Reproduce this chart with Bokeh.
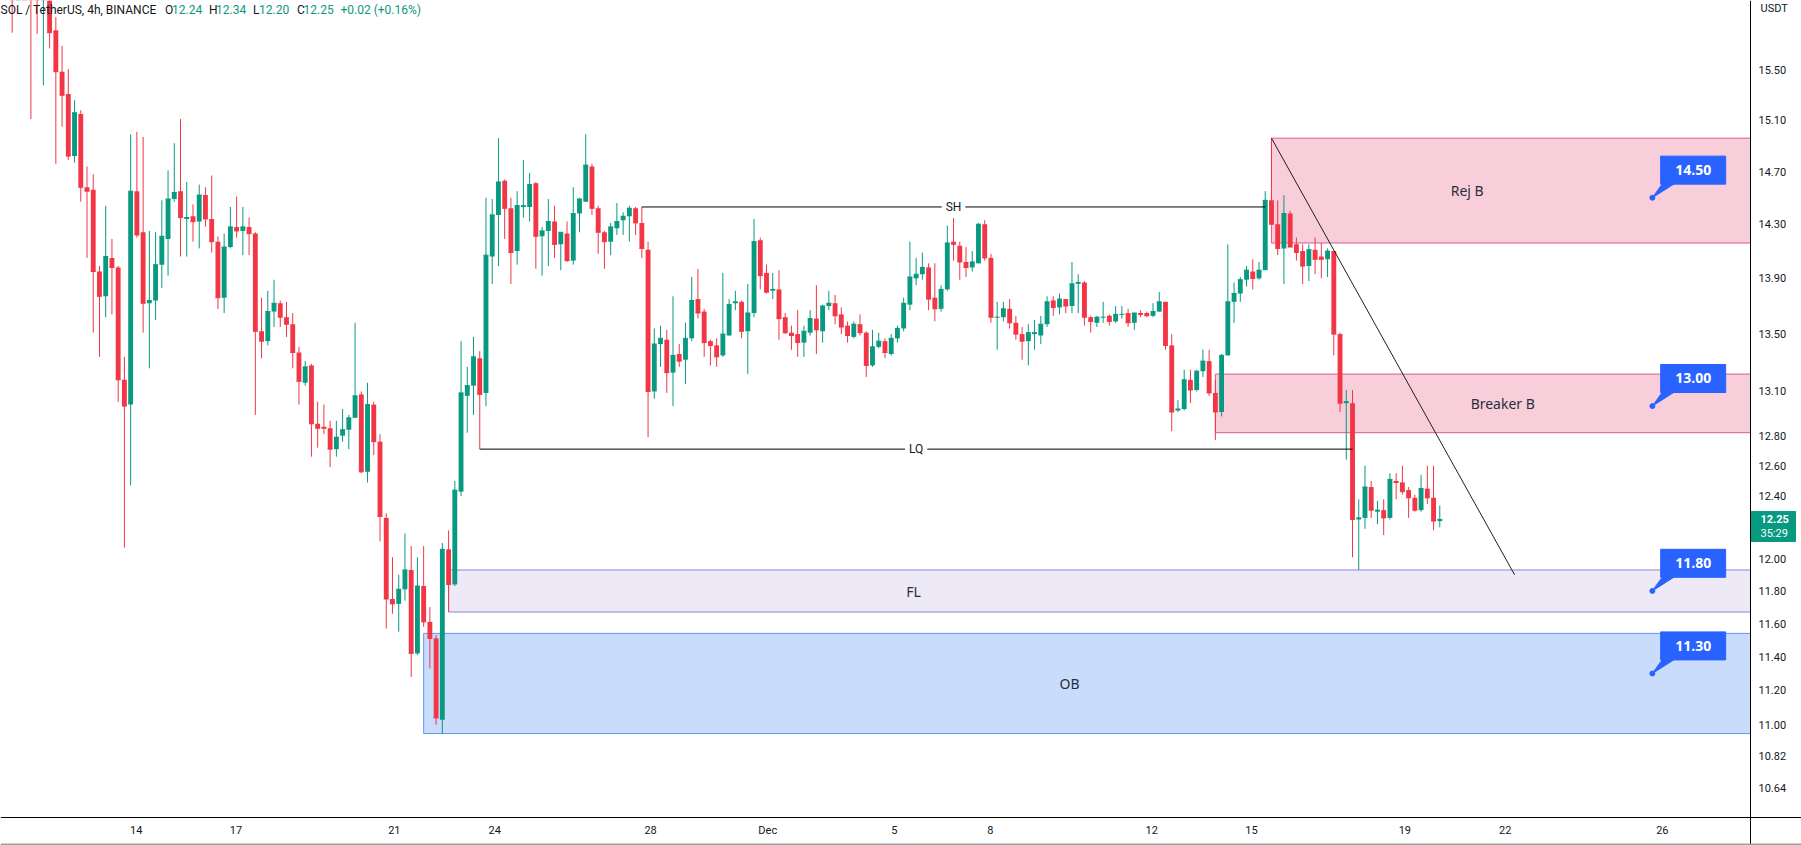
import numpy as np
from bokeh.plotting import figure
from bokeh.models import Range1d, FixedTicker, PrintfTickFormatter, Label, ColumnDataSource, Span
from bokeh.embed import file_html
from bokeh.resources import INLINE

# ---------------- data ----------------
symbol_text = "SOL / TetherUS, 4h, BINANCE"

opens = [
    16.45, 16.22, 16.40, 16.25, 16.20, 16.10, 16.35, 15.83, 15.49, 15.31,
    14.82, 15.15, 14.58, 14.56, 13.95, 13.77, 14.05, 13.98, 13.18, 13.01,
    14.55, 14.24, 13.72, 13.74, 14.00, 14.19, 14.49, 14.55, 14.34, 14.36,
    14.32, 14.52, 14.34, 14.17, 13.76, 14.13, 14.28, 14.25, 14.28, 14.23,
    13.52, 13.45, 13.66, 13.72, 13.62, 13.57, 13.37, 13.16, 13.28, 12.88,
    12.86, 12.85, 12.71, 12.80, 12.84, 12.92, 13.08, 12.56, 13.01, 12.76,
    12.26, 11.75, 11.72, 11.81, 11.93, 11.42, 11.83, 11.61, 11.51, 11.03,
    12.06, 11.84, 12.43, 13.07, 13.14, 13.33, 13.09, 14.06, 14.37, 14.63,
    14.42, 14.10, 14.43, 14.43, 14.61, 14.21, 14.25, 14.32, 14.15, 14.23,
    14.03, 14.38, 14.47, 14.74, 14.42, 14.24, 14.17, 14.27, 14.33, 14.36,
    14.42, 14.31, 14.11, 13.10, 13.43, 13.46, 13.23, 13.36, 13.32, 13.47,
    13.75, 13.66, 13.45, 13.42, 13.35, 13.49, 13.72, 13.73, 13.52, 13.65,
    14.18, 13.94, 13.81, 13.82, 13.62, 13.51, 13.50, 13.44, 13.51, 13.61,
    13.52, 13.70, 13.72, 13.64, 13.56, 13.48, 13.57, 13.51, 13.28, 13.41,
    13.45, 13.36, 13.47, 13.54, 13.71, 13.90, 13.93, 13.98, 13.76, 13.68,
    13.82, 14.17, 14.14, 14.02, 13.98, 14.01, 14.30, 14.05, 13.62, 13.62,
    13.68, 13.58, 13.50, 13.45, 13.50, 13.49, 13.57, 13.74, 13.69, 13.75,
    13.70, 13.86, 13.87, 13.62, 13.58, 13.62, 13.63, 13.59, 13.64, 13.65,
    13.58, 13.65, 13.65, 13.63, 13.66, 13.73, 13.42, 12.97, 12.98, 13.18,
    13.11, 13.24, 13.31, 13.09, 12.96, 13.35, 13.73, 13.79, 13.89, 13.95,
    13.90, 13.96, 14.48, 14.30, 14.12, 14.38, 14.15, 14.10, 13.99, 14.11,
    14.06, 14.04, 14.10, 13.50, 13.02, 13.02, 12.25, 12.26, 12.46, 12.30,
    12.31, 12.26, 12.50, 12.49, 12.44, 12.39, 12.31, 12.45, 12.39, 12.24,
]
highs = [
    16.60, 16.48, 16.55, 16.40, 16.30, 16.45, 16.40, 15.94, 15.70, 15.51,
    15.26, 15.18, 14.74, 14.68, 13.99, 14.44, 14.19, 13.99, 13.34, 14.99,
    15.01, 14.97, 14.25, 14.24, 14.48, 14.71, 14.92, 15.11, 14.62, 14.45,
    14.60, 14.58, 14.67, 14.21, 14.23, 14.43, 14.51, 14.43, 14.35, 14.24,
    13.76, 13.81, 13.89, 13.74, 13.73, 13.65, 13.41, 13.31, 13.29, 13.03,
    13.01, 12.90, 12.90, 12.98, 12.94, 13.58, 13.10, 13.16, 13.03, 12.81,
    12.29, 12.01, 11.90, 12.16, 12.08, 12.01, 12.08, 11.70, 11.53, 12.10,
    12.18, 12.50, 13.45, 13.27, 13.48, 13.38, 14.50, 14.49, 14.96, 14.64,
    14.50, 14.55, 14.79, 14.69, 14.62, 14.28, 14.49, 14.44, 14.24, 14.32,
    14.58, 14.50, 14.99, 14.76, 14.44, 14.25, 14.31, 14.46, 14.39, 14.44,
    14.43, 14.43, 14.17, 13.54, 13.56, 13.53, 13.77, 13.43, 13.58, 13.91,
    13.97, 13.68, 13.46, 13.47, 13.94, 13.75, 13.81, 13.74, 13.86, 14.34,
    14.20, 14.00, 13.94, 13.96, 13.65, 13.56, 13.67, 13.56, 13.67, 13.85,
    13.71, 13.81, 13.78, 13.69, 13.59, 13.59, 13.64, 13.52, 13.53, 13.51,
    13.47, 13.50, 13.56, 13.76, 14.17, 14.05, 14.09, 14.01, 14.01, 13.85,
    14.29, 14.38, 14.17, 14.13, 14.10, 14.31, 14.33, 14.08, 13.73, 13.73,
    13.75, 13.63, 13.55, 13.57, 13.60, 13.63, 13.77, 13.77, 13.79, 13.75,
    14.02, 13.93, 13.88, 13.63, 13.63, 13.73, 13.64, 13.70, 13.70, 13.68,
    13.65, 13.67, 13.66, 13.72, 13.80, 13.73, 13.50, 13.04, 13.25, 13.25,
    13.25, 13.39, 13.39, 13.18, 13.36, 14.15, 13.87, 13.91, 13.99, 14.04,
    14.02, 14.55, 14.96, 14.48, 14.52, 14.40, 14.20, 14.15, 14.15, 14.20,
    14.16, 14.12, 14.10, 13.51, 13.11, 13.11, 12.38, 12.60, 12.50, 12.37,
    12.38, 12.55, 12.55, 12.60, 12.46, 12.41, 12.54, 12.60, 12.60, 12.34,
]
lows = [
    15.81, 16.12, 16.15, 15.11, 15.80, 15.38, 15.68, 14.76, 15.05, 14.79,
    14.77, 14.47, 14.05, 13.51, 13.34, 13.62, 13.64, 13.03, 12.07, 12.47,
    14.20, 13.51, 13.26, 13.60, 13.83, 13.92, 14.47, 14.06, 14.06, 14.17,
    14.12, 14.28, 14.09, 13.68, 13.65, 14.12, 14.20, 14.07, 14.07, 12.94,
    13.33, 13.42, 13.55, 13.55, 13.48, 13.26, 13.01, 13.14, 12.66, 12.72,
    12.81, 12.59, 12.66, 12.76, 12.71, 12.92, 12.55, 12.49, 12.67, 12.11,
    11.57, 11.66, 11.55, 11.74, 11.28, 11.41, 11.58, 11.33, 11.00, 10.95,
    11.67, 11.83, 12.40, 12.82, 12.94, 12.71, 13.00, 13.86, 13.99, 14.19,
    13.86, 14.00, 14.35, 14.32, 13.97, 13.92, 13.99, 14.05, 13.96, 14.02,
    14.00, 14.24, 14.47, 14.37, 14.08, 13.97, 14.07, 14.22, 14.22, 14.17,
    14.22, 14.05, 12.79, 13.05, 13.27, 13.09, 13.00, 13.27, 13.15, 13.45,
    13.61, 13.34, 13.28, 13.27, 13.34, 13.49, 13.67, 13.47, 13.22, 13.62,
    13.82, 13.79, 13.75, 13.46, 13.50, 13.39, 13.34, 13.34, 13.49, 13.36,
    13.44, 13.67, 13.57, 13.50, 13.44, 13.47, 13.49, 13.20, 13.27, 13.40,
    13.33, 13.35, 13.44, 13.52, 13.67, 13.85, 13.89, 13.67, 13.59, 13.66,
    13.81, 14.03, 13.89, 13.91, 13.95, 14.01, 14.03, 13.58, 13.39, 13.59,
    13.54, 13.46, 13.32, 13.28, 13.39, 13.43, 13.55, 13.63, 13.64, 13.65,
    13.65, 13.65, 13.56, 13.51, 13.55, 13.58, 13.56, 13.58, 13.61, 13.55,
    13.53, 13.62, 13.62, 13.62, 13.66, 13.39, 12.83, 12.96, 12.97, 13.02,
    13.10, 13.20, 13.07, 12.77, 12.93, 13.35, 13.58, 13.73, 13.84, 13.82,
    13.89, 13.96, 14.30, 14.07, 13.86, 14.13, 14.03, 13.86, 13.88, 13.93,
    13.90, 13.91, 13.35, 12.96, 12.64, 12.01, 11.93, 12.19, 12.26, 12.22,
    12.15, 12.25, 12.38, 12.41, 12.26, 12.30, 12.30, 12.35, 12.18, 12.20,
]
closes = [
    16.22, 16.40, 16.25, 16.20, 16.12, 16.35, 15.81, 15.49, 15.30, 14.82,
    15.16, 14.58, 14.55, 13.95, 13.77, 14.06, 13.98, 13.18, 13.00, 14.55,
    14.22, 13.72, 13.74, 14.00, 14.21, 14.49, 14.54, 14.35, 14.35, 14.32,
    14.52, 14.34, 14.17, 13.76, 14.13, 14.28, 14.25, 14.28, 14.23, 13.52,
    13.45, 13.66, 13.72, 13.62, 13.57, 13.37, 13.17, 13.27, 12.88, 12.85,
    12.85, 12.71, 12.79, 12.84, 12.92, 13.07, 12.56, 13.01, 12.76, 12.27,
    11.75, 11.72, 11.81, 11.93, 11.42, 11.83, 11.61, 11.51, 11.04, 12.06,
    11.84, 12.44, 13.09, 13.14, 13.34, 13.08, 14.07, 14.37, 14.62, 14.42,
    14.09, 14.44, 14.44, 14.60, 14.21, 14.25, 14.32, 14.15, 14.24, 14.03,
    14.38, 14.49, 14.75, 14.42, 14.24, 14.17, 14.28, 14.32, 14.36, 14.42,
    14.31, 14.12, 13.10, 13.43, 13.47, 13.23, 13.35, 13.31, 13.47, 13.74,
    13.65, 13.44, 13.42, 13.34, 13.50, 13.71, 13.73, 13.52, 13.65, 14.17,
    13.92, 13.80, 13.82, 13.61, 13.51, 13.49, 13.44, 13.52, 13.61, 13.53,
    13.70, 13.72, 13.63, 13.55, 13.49, 13.57, 13.51, 13.28, 13.41, 13.45,
    13.37, 13.47, 13.54, 13.72, 13.91, 13.93, 13.98, 13.75, 13.68, 13.82,
    14.16, 14.15, 14.02, 13.98, 14.02, 14.30, 14.05, 13.62, 13.62, 13.68,
    13.58, 13.50, 13.45, 13.51, 13.51, 13.57, 13.73, 13.69, 13.75, 13.70,
    13.86, 13.87, 13.62, 13.59, 13.62, 13.62, 13.59, 13.64, 13.64, 13.58,
    13.65, 13.64, 13.63, 13.66, 13.73, 13.42, 12.96, 12.98, 13.18, 13.11,
    13.24, 13.31, 13.09, 12.96, 13.35, 13.73, 13.79, 13.89, 13.96, 13.90,
    13.96, 14.48, 14.30, 14.12, 14.38, 14.13, 14.09, 13.99, 14.11, 14.04,
    14.04, 14.10, 13.50, 13.02, 13.03, 12.25, 12.26, 12.46, 12.31, 12.31,
    12.26, 12.51, 12.49, 12.43, 12.39, 12.31, 12.45, 12.39, 12.24, 12.25,
]

# date labels and the bar positions where they sit on the time axis
date_labels = ["14", "17", "21", "24", "28", "Dec", "5", "8", "12", "15", "19", "22", "26"]
date_tick_bars = [19.9, 35.9, 61.3, 77.4, 102.4, 121.2, 141.5, 156.9, 182.8, 198.8, 223.4, 239.5, 264.7]
price_ticks = [10.64, 10.82, 11.00, 11.20, 11.40, 11.60, 11.80, 12.00, 12.40, 12.60,
               12.80, 13.10, 13.50, 13.90, 14.30, 14.70, 15.10, 15.50]

# drawings
sh_level, sh_from, sh_to = 14.43, 101, 201
lq_level, lq_from, lq_to = 12.71, 75, 215
trend_x = [202, 241]
trend_y = [14.96, 11.90]

zone_names = ["Rej B", "Breaker B", "FL", "OB"]
zone_start = [202, 193, 70, 66]
zone_bottom = [14.16, 12.82, 11.67, 10.95]
zone_top = [14.96, 13.22, 11.93, 11.54]
zone_label_bar = [233.4, 239.1, 144.6, 169.6]

target_levels = [14.50, 13.00, 11.80, 11.30]
target_bar = 263.1

last_open, last_high, last_low, last_close = 12.24, 12.34, 12.20, 12.25
change, change_pct = 0.02, 0.16
countdown = "35:29"

# ---------------- styling / layout ----------------
W, H = 1801, 845
AXIS_X_PX = 1750                    # pixel column of the price-axis line
AXIS_Y_PX = 817                     # pixel row of the time-axis line (from top)
bar_px = 6.234                      # horizontal spacing of the bars
x_lo = -11.7 / bar_px
x_hi = x_lo + W / bar_px
x_axis = x_lo + AXIS_X_PX / bar_px
y_top = 16.079                      # price at the top edge
y_axis_price = 10.4786              # price on the time-axis line
ppl = AXIS_Y_PX / np.log(y_top / y_axis_price)   # pixels per ln(price)
y_bot = y_axis_price * float(np.exp(-(H - AXIS_Y_PX) / ppl))
UP, DOWN = "#089981", "#f23645"
TXT = "#131722"
BLUE = "#2962ff"

p = figure(frame_width=W, frame_height=H,
           x_range=Range1d(x_lo, x_hi), y_range=Range1d(y_bot, y_top),
           y_axis_type="log", y_axis_location="right",
           toolbar_location=None, output_backend="svg",
           min_border=0, background_fill_color="white", border_fill_color="white")
p.outline_line_color = None
p.xgrid.visible = False
p.ygrid.visible = False

xa = p.xaxis[0]
xa.fixed_location = y_axis_price
xa.ticker = FixedTicker(ticks=date_tick_bars)
xa.major_label_overrides = {t: s for t, s in zip(date_tick_bars, date_labels)}
xa.axis_line_color = "#000000"
xa.major_tick_line_color = None
xa.major_tick_out = 0
xa.major_tick_in = 0
xa.minor_tick_line_color = None
xa.major_label_text_font = "Roboto"
xa.major_label_text_font_size = "11px"
xa.major_label_text_color = TXT
xa.major_label_standoff = 6

ya = p.yaxis[0]
ya.fixed_location = x_axis
ya.ticker = FixedTicker(ticks=price_ticks)
ya.formatter = PrintfTickFormatter(format="%.2f")
ya.axis_line_color = "#000000"
ya.major_tick_line_color = None
ya.major_tick_out = 0
ya.major_tick_in = 0
ya.minor_tick_line_color = None
ya.major_label_text_font = "Roboto"
ya.major_label_text_font_size = "11px"
ya.major_label_text_color = TXT
ya.major_label_standoff = 8

# window bottom edge
p.add_layout(Span(location=y_bot * float(np.exp(1 / ppl)), dimension="width",
                  line_color="#a0a0a0", line_width=2))

# zones
zone_fill = ["#f8cedb", "#f8cedb", "#eee9f7", "#c9dcfc"]
zone_line = ["#dd5c85", "#dd5c85", "#9b7dd7", "#6496f5"]
p.quad(left=zone_start, right=[x_axis] * 4, bottom=zone_bottom, top=zone_top,
       fill_color=zone_fill, line_color=zone_line, line_width=1)

# candles
o = np.array(opens); h = np.array(highs); l = np.array(lows); c = np.array(closes)
idx = np.arange(len(o))
colors = np.where(c >= o, UP, DOWN)
src = ColumnDataSource(dict(x=idx, o=o, h=h, l=l, c=c,
                            top=np.maximum(o, c), bottom=np.minimum(o, c), color=colors))
p.segment(x0="x", y0="h", x1="x", y1="l", line_color="color", line_width=1, source=src)
p.vbar(x="x", width=0.78, top="top", bottom="bottom", fill_color="color", line_color=None, source=src)
p.scatter(x="x", y="c", marker="dash", size=5, line_color="color", line_width=1, source=src)

# horizontal levels and trend line
p.segment(x0=[sh_from, lq_from], y0=[sh_level, lq_level], x1=[sh_to, lq_to], y1=[sh_level, lq_level],
          line_color="#000000", line_width=1)
p.segment(x0=[trend_x[0]], y0=[trend_y[0]], x1=[trend_x[1]], y1=[trend_y[1]],
          line_color="#1e1e1e", line_width=1)

for name, lvl, a, b in [("SH", sh_level, sh_from, sh_to), ("LQ", lq_level, lq_from, lq_to)]:
    p.add_layout(Label(x=(a + b) / 2, y=lvl, text=name, text_align="center", text_baseline="middle",
                       text_font="Roboto", text_font_size="12px", text_color=TXT,
                       background_fill_color="white", padding=4))

for name, xb, lo_, hi_ in zip(zone_names, zone_label_bar, zone_bottom, zone_top):
    p.add_layout(Label(x=xb, y=float(np.sqrt(lo_ * hi_)), text=name, text_align="center",
                       text_baseline="middle", text_font="Noto Sans", text_font_size="14px",
                       text_color="#2a2e39"))

# price callouts: dot on the level, tail, box with the level's value
box_dx, box_dy = 40.8, 27.6     # box centre offset from the dot, px
for lvl in target_levels:
    up = float(np.exp(14 / ppl))
    tail_x = [target_bar, target_bar + 10 / bar_px, target_bar + 22 / bar_px]
    tail_y = [lvl, lvl * up, lvl * up]
    p.patch(tail_x, tail_y, fill_color=BLUE, line_color=BLUE, line_width=1)
    p.scatter([target_bar], [lvl], size=5, fill_color=BLUE, line_color=BLUE)
    p.rect(x=[target_bar + box_dx / bar_px], y=[lvl * float(np.exp(box_dy / ppl))],
           width=65, height=28, width_units="screen", height_units="screen",
           fill_color=BLUE, line_color=BLUE)
    p.add_layout(Label(x=target_bar, y=lvl, x_offset=box_dx, y_offset=box_dy, text=f"{lvl:.2f}",
                       text_align="center", text_baseline="middle", text_color="white",
                       text_font="Open Sans", text_font_style="bold", text_font_size="14px"))

# header legend (screen y counted from the bottom of the frame)
hy = H - 9
segments = [
    (0, symbol_text, TXT),
    (164.5, "O", TXT), (171.5, f"{last_open:.2f}", UP),
    (208.5, "H", TXT), (215.5, f"{last_high:.2f}", UP),
    (252.5, "L", TXT), (258.5, f"{last_low:.2f}", UP),
    (296.5, "C", TXT), (303, f"{last_close:.2f}", UP),
    (340, f"+{change:.2f} (+{change_pct:.2f}%)", UP),
]
for sx, txt, col in segments:
    p.add_layout(Label(x=sx, y=hy, x_units="screen", y_units="screen", text=txt,
                       text_align="left", text_baseline="middle", text_font="Roboto",
                       text_font_size="12px", text_color=col))

# price-axis extras: currency and last-price tag
p.add_layout(Label(x=AXIS_X_PX + 10, y=H - 8, x_units="screen", y_units="screen", text="USDT",
                   text_align="left", text_baseline="middle", text_font="Roboto",
                   text_font_size="11px", text_color=TXT))
p.rect(x=[x_axis + 22.5 / bar_px], y=[last_close * float(np.exp(-7 / ppl))],
       width=45, height=30, width_units="screen", height_units="screen",
       fill_color=UP, line_color=UP)
p.add_layout(Label(x=AXIS_X_PX + 10, y=last_close, x_units="screen", text=f"{last_close:.2f}",
                   text_align="left", text_baseline="middle", text_font="Roboto",
                   text_font_style="bold", text_font_size="11px", text_color="white"))
p.add_layout(Label(x=AXIS_X_PX + 10, y=last_close, y_offset=-14.5, x_units="screen", text=countdown,
                   text_align="left", text_baseline="middle", text_font="Roboto",
                   text_font_size="11px", text_color="white"))

open("out.html", "w").write(file_html(p, INLINE))
